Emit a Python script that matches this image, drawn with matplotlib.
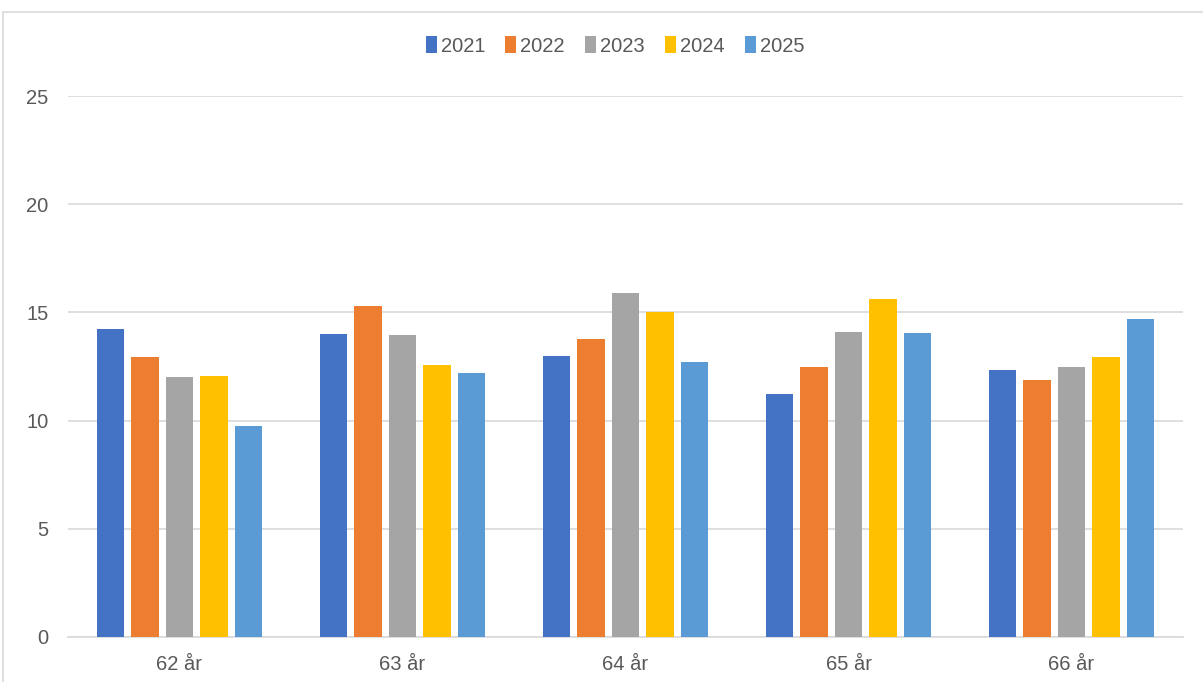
import matplotlib
matplotlib.use("Agg")
import matplotlib.pyplot as plt
import numpy as np
from matplotlib.patches import Rectangle

categories = ["62 år", "63 år", "64 år", "65 år", "66 år"]
years = ["2021", "2022", "2023", "2024", "2025"]
v2021 = [14.23, 14.0, 12.98, 11.23, 12.34]
v2022 = [12.94, 15.3, 13.77, 12.48, 11.88]
v2023 = [12.01, 13.96, 15.9, 14.09, 12.48]
v2024 = [12.06, 12.57, 15.02, 15.62, 12.94]
v2025 = [9.75, 12.2, 12.71, 14.05, 14.7]
series = [v2021, v2022, v2023, v2024, v2025]
colors = ["#4472C4", "#ED7D31", "#A5A5A5", "#FFC000", "#5B9BD5"]

plt.rcParams['font.family'] = ['Liberation Sans', 'DejaVu Sans']

fig = plt.figure(figsize=(12.03, 6.82), dpi=100)
ax = fig.add_axes([68/1203, 1-637/682, (1183-68)/1203, (637-96)/682 * 1.0])

# outer frame
fig.patches.append(Rectangle((3/1203, -0.1), 1.2, 1.1-12/682, transform=fig.transFigure,
                             fill=False, edgecolor="#D9D9D9", linewidth=1.2))

x = np.arange(len(categories))
step = 0.155
bw = 0.122
for i, (vals, col, yr) in enumerate(zip(series, colors, years)):
    ax.bar(x + (i - 2) * step, vals, width=bw, color=col, label=yr, zorder=3)

ax.set_xlim(-0.5, len(categories) - 0.5)
ax.set_ylim(0, 25)
ax.set_yticks([0, 5, 10, 15, 20, 25])
ax.yaxis.grid(True, color="#D9D9D9", linewidth=1.2, zorder=0)
ax.set_axisbelow(True)
for s in ["top", "right", "left"]:
    ax.spines[s].set_visible(False)
ax.spines["bottom"].set_color("#D9D9D9")
ax.spines["bottom"].set_linewidth(1.2)
ax.tick_params(axis="both", length=0, labelsize=14.5, labelcolor="#595959")
ax.tick_params(axis="y", pad=14)
ax.tick_params(axis="x", pad=13)
ax.set_xticks(x)
ax.set_xticklabels(categories)

leg = fig.legend(loc="center", bbox_to_anchor=(615/1203, 1-46/682), ncol=5, frameon=False,
                 fontsize=14.5, handlelength=0.55, handleheight=0.9, handletextpad=0.2,
                 columnspacing=1.0)
for t in leg.get_texts():
    t.set_color("#595959")

fig.savefig("out.png", dpi=100)
